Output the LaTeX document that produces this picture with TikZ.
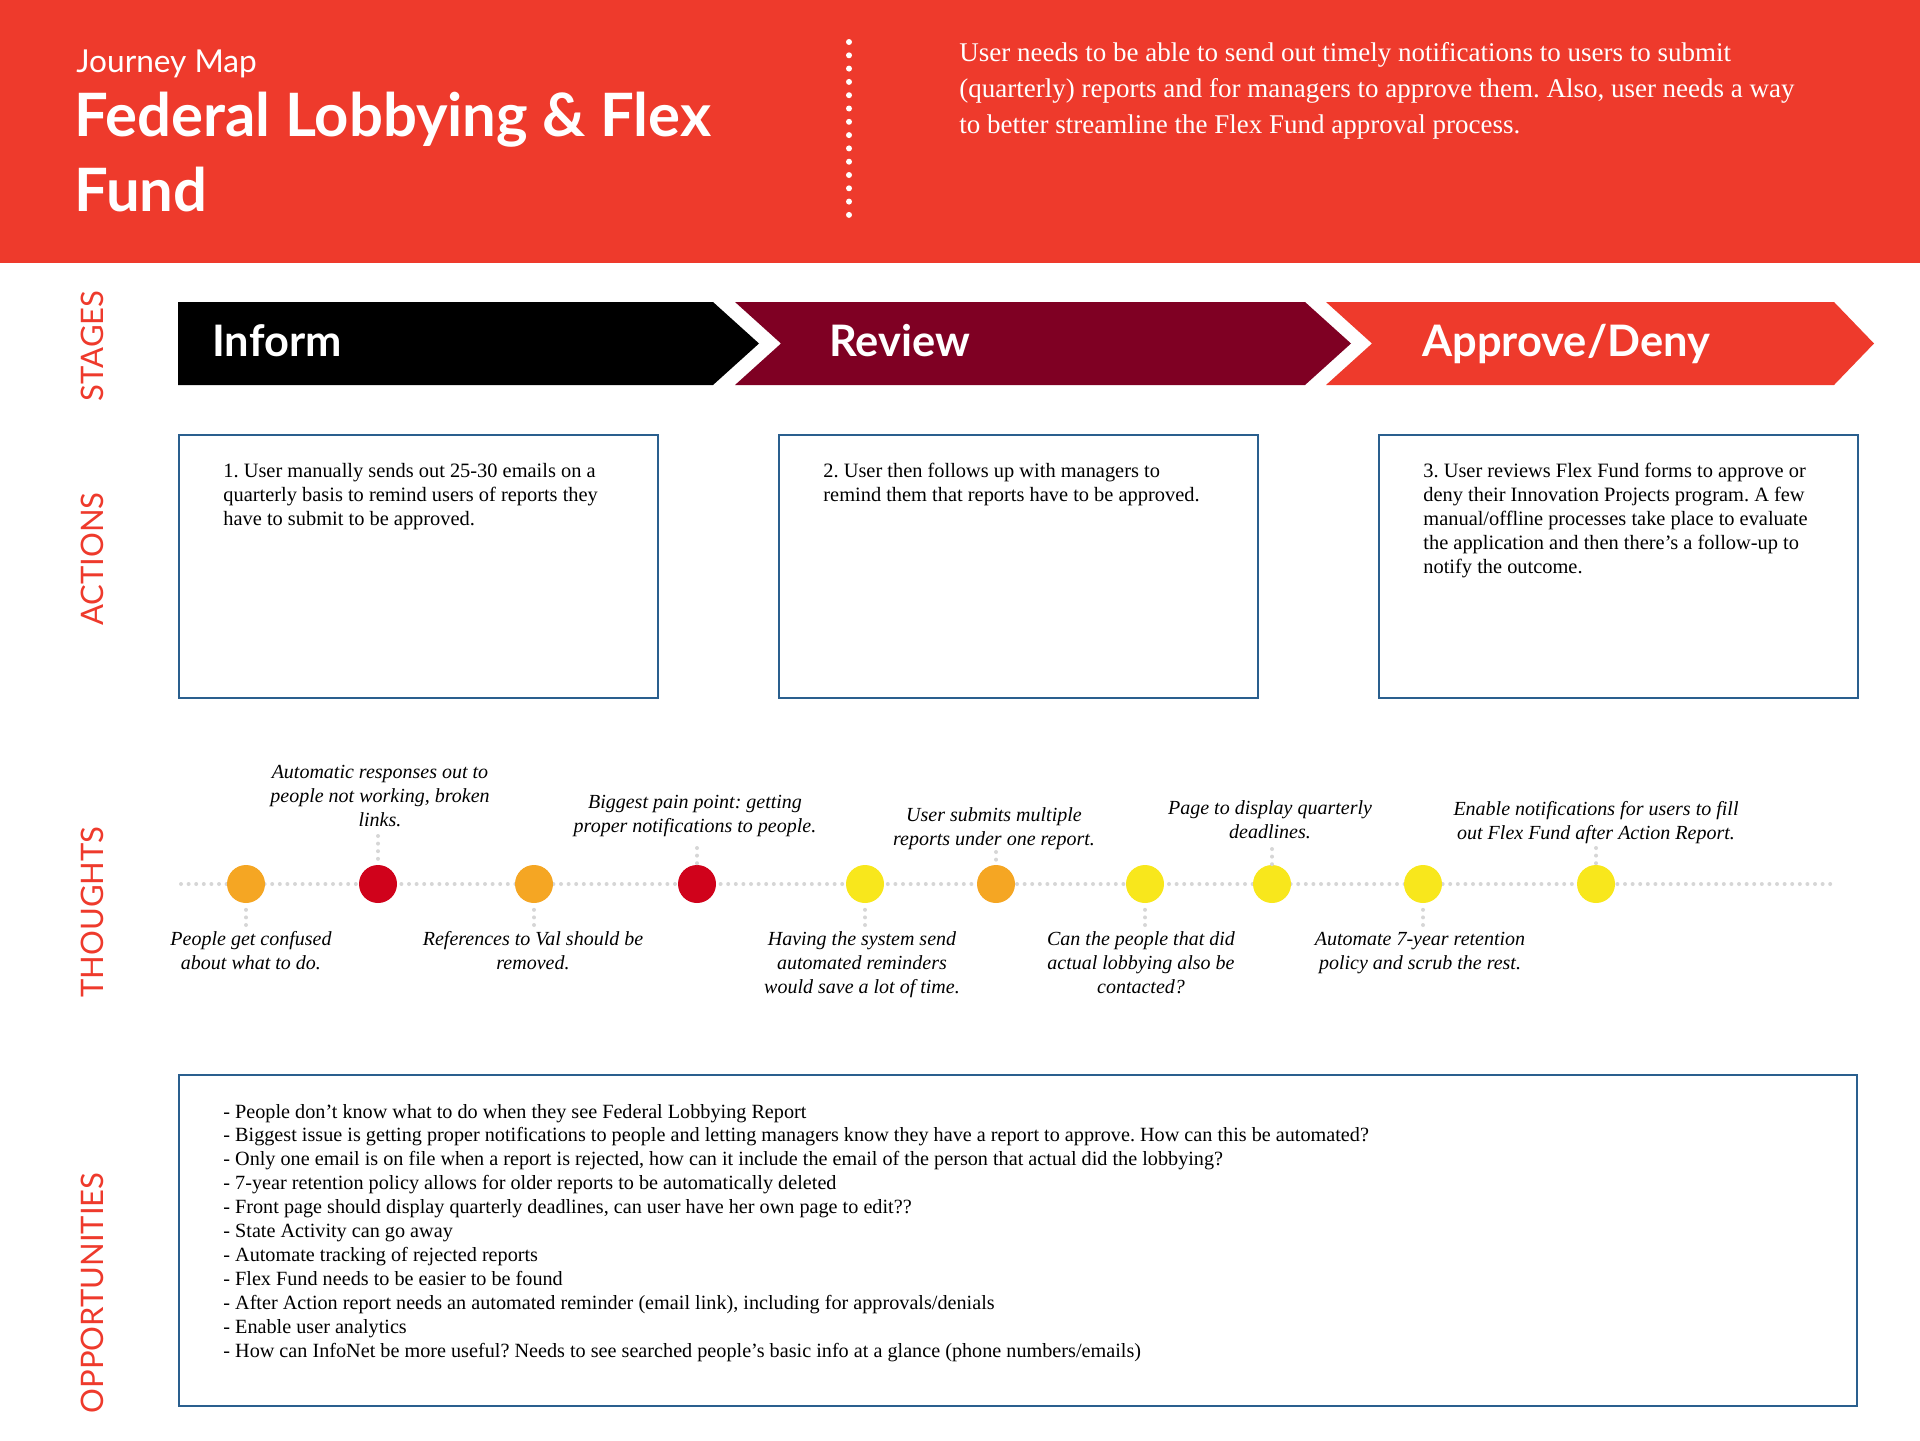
\documentclass[tikz,border=0pt]{standalone}
\usepackage{fontspec}
\setmainfont{Liberation Serif}
\newfontfamily\latofont{Lato}
\definecolor{hdrred}{HTML}{EE3A2C}
\definecolor{maroon}{HTML}{7F0023}
\definecolor{boxblue}{HTML}{2A5F8E}
\definecolor{dotgray}{HTML}{D6D6D6}
\definecolor{corange}{HTML}{F5A623}
\definecolor{cred}{HTML}{D0021B}
\definecolor{cyellow}{HTML}{F8E71C}
\frenchspacing
\begin{document}
\begin{tikzpicture}[x=0.5pt,y=-0.5pt,
  sidelabel/.style={rotate=90,inner sep=0,text=hdrred,font=\latofont\fontsize{15.5}{18}\selectfont},
  stagetext/.style={anchor=base west,inner sep=0,text=white,font=\latofont\bfseries\fontsize{21.7}{24}\selectfont},
  actbox/.style={draw=boxblue,line width=1pt,anchor=north west,inner sep=0,minimum width=239.5pt,minimum height=131.5pt},
  acttext/.style={anchor=base west,inner sep=0,align=left,font=\fontsize{10.2}{12}\selectfont},
  opptextstyle/.style={anchor=base west,inner sep=0,align=left,font=\fontsize{10.1}{11.95}\selectfont},
  thought/.style={anchor=base,inner sep=0,align=center,font=\itshape\fontsize{10}{12}\selectfont},
  dotc/.style={circle,inner sep=0,minimum size=19pt},
  graydots/.style={draw=dotgray,line width=2pt,line cap=round,dash pattern=on 0pt off 3.8pt},
  whitedots/.style={draw=white,line width=3pt,line cap=round,dash pattern=on 0pt off 6.65pt}
]
\useasboundingbox (0,0) rectangle (1920,1440);
% header
\fill[hdrred] (0,0) rectangle (1920,263);
\node[anchor=base west,inner sep=0,text=white,font=\latofont\fontsize{15.8}{18}\selectfont] (jm) at (76,72) {Journey Map};
\node[anchor=base west,inner sep=0,text=white,align=left,font=\latofont\bfseries\fontsize{29.9}{37.5}\selectfont] (title) at (74,211) {Federal Lobbying \& Flex\\Fund};
\coordinate (dtop) at (849,42);
\coordinate (dbot) at (849,216);
\draw[whitedots] (dtop) -- (dbot);
\node[anchor=base west,inner sep=0,text=white,align=left,font=\fontsize{13.5}{18}\selectfont] (desc) at (959,133) {User needs to be able to send out timely notifications to users to submit\\(quarterly) reports and for managers to approve them. Also, user needs a way\\to better streamline the Flex Fund approval process.};
% side labels
\node[sidelabel] (lstages) at (92,346) {STAGES};
\node[sidelabel] (lactions) at (92,559) {ACTIONS};
\node[sidelabel] (lthoughts) at (92,912) {THOUGHTS};
\node[sidelabel] (lopps) at (92,1293) {OPPORTUNITIES};
% stages
\fill[black] (178,302) -- (713,302) -- (759,343.5) -- (713,385) -- (178,385) -- cycle;
\fill[maroon] (735,302) -- (1305,302) -- (1351,343.5) -- (1305,385) -- (735,385) -- (781,343.5) -- cycle;
\fill[hdrred] (1326,302) -- (1834,302) -- (1874,343.5) -- (1834,385) -- (1326,385) -- (1372,343.5) -- cycle;
\node[stagetext] (sinform) at (212,356) {Inform};
\node[stagetext] (sreview) at (829,356) {Review};
\node[stagetext] (sapprove) at (1422,356) {Approve/Deny};
% actions
\node[actbox] (box1) at (178,434) {};
\node[actbox] (box2) at (778,434) {};
\node[actbox] (box3) at (1378,434) {};
\node[acttext] (t1) at (223,525) {1. User manually sends out 25-30 emails on a\\quarterly basis to remind users of reports they\\have to submit to be approved.};
\node[acttext] (t2) at (823,501) {2. User then follows up with managers to\\remind them that reports have to be approved.};
\node[acttext] (t3) at (1423,573) {3. User reviews Flex Fund forms to approve or\\deny their Innovation Projects program. A few\\manual/offline processes take place to evaluate\\the application and then there’s a follow-up to\\notify the outcome.};
% thoughts line
\coordinate (tl) at (181,884);
\coordinate (tr) at (1834,884);
\draw[graydots] (tl) -- (tr);
\node[dotc,fill=corange] (c1) at (246,884) {};
\node[dotc,fill=cred] (c2) at (378,884) {};
\node[dotc,fill=corange] (c3) at (534,884) {};
\node[dotc,fill=cred] (c4) at (697,884) {};
\node[dotc,fill=cyellow] (c5) at (865,884) {};
\node[dotc,fill=corange] (c6) at (996,884) {};
\node[dotc,fill=cyellow] (c7) at (1145,884) {};
\node[dotc,fill=cyellow] (c8) at (1272,884) {};
\node[dotc,fill=cyellow] (c9) at (1423,884) {};
\node[dotc,fill=cyellow] (c10) at (1596,884) {};
% connectors
\coordinate (e1) at (246,925);
\coordinate (e2) at (378,836);
\coordinate (e3) at (534,925);
\coordinate (e4) at (697,848);
\coordinate (e5) at (865,925);
\coordinate (e6) at (996,852);
\coordinate (e7) at (1145,925);
\coordinate (e8) at (1272,849);
\coordinate (e9) at (1423,925);
\coordinate (e10) at (1596,848);
\foreach \i in {1,...,10} {\draw[graydots] (e\i) -- (c\i);}
% thought labels (anchored at last baseline)
\node[thought] (l1) at (251,969) {People get confused\\about what to do.};
\node[thought] (l2) at (380,826) {Automatic responses out to\\people not working, broken\\links.};
\node[thought] (l3) at (533,969) {References to Val should be\\removed.};
\node[thought] (l4) at (695,832) {Biggest pain point: getting\\proper notifications to people.};
\node[thought] (l5) at (862,993) {Having the system send\\automated reminders\\would save a lot of time.};
\node[thought] (l6) at (994,845) {User submits multiple\\reports under one report.};
\node[thought] (l7) at (1141,993) {Can the people that did\\actual lobbying also be\\contacted?};
\node[thought] (l8) at (1270,838) {Page to display quarterly\\deadlines.};
\node[thought] (l9) at (1420,969) {Automate 7-year retention\\policy and scrub the rest.};
\node[thought] (l10) at (1596,839) {Enable notifications for users to fill\\out Flex Fund after Action Report.};
% opportunities
\node[actbox,minimum width=839pt,minimum height=165.5pt] (oppbox) at (178,1074) {};
\node[opptextstyle] (opptext) at (223,1357) {- People don’t know what to do when they see Federal Lobbying Report\\
- Biggest issue is getting proper notifications to people and letting managers know they have a report to approve. How can this be automated?\\
- Only one email is on file when a report is rejected, how can it include the email of the person that actual did the lobbying?\\
- 7-year retention policy allows for older reports to be automatically deleted\\
- Front page should display quarterly deadlines, can user have her own page to edit??\\
- State Activity can go away\\
- Automate tracking of rejected reports\\
- Flex Fund needs to be easier to be found\\
- After Action report needs an automated reminder (email link), including for approvals/denials\\
- Enable user analytics\\
- How can InfoNet be more useful? Needs to see searched people’s basic info at a glance (phone numbers/emails)};
\end{tikzpicture}
\end{document}
